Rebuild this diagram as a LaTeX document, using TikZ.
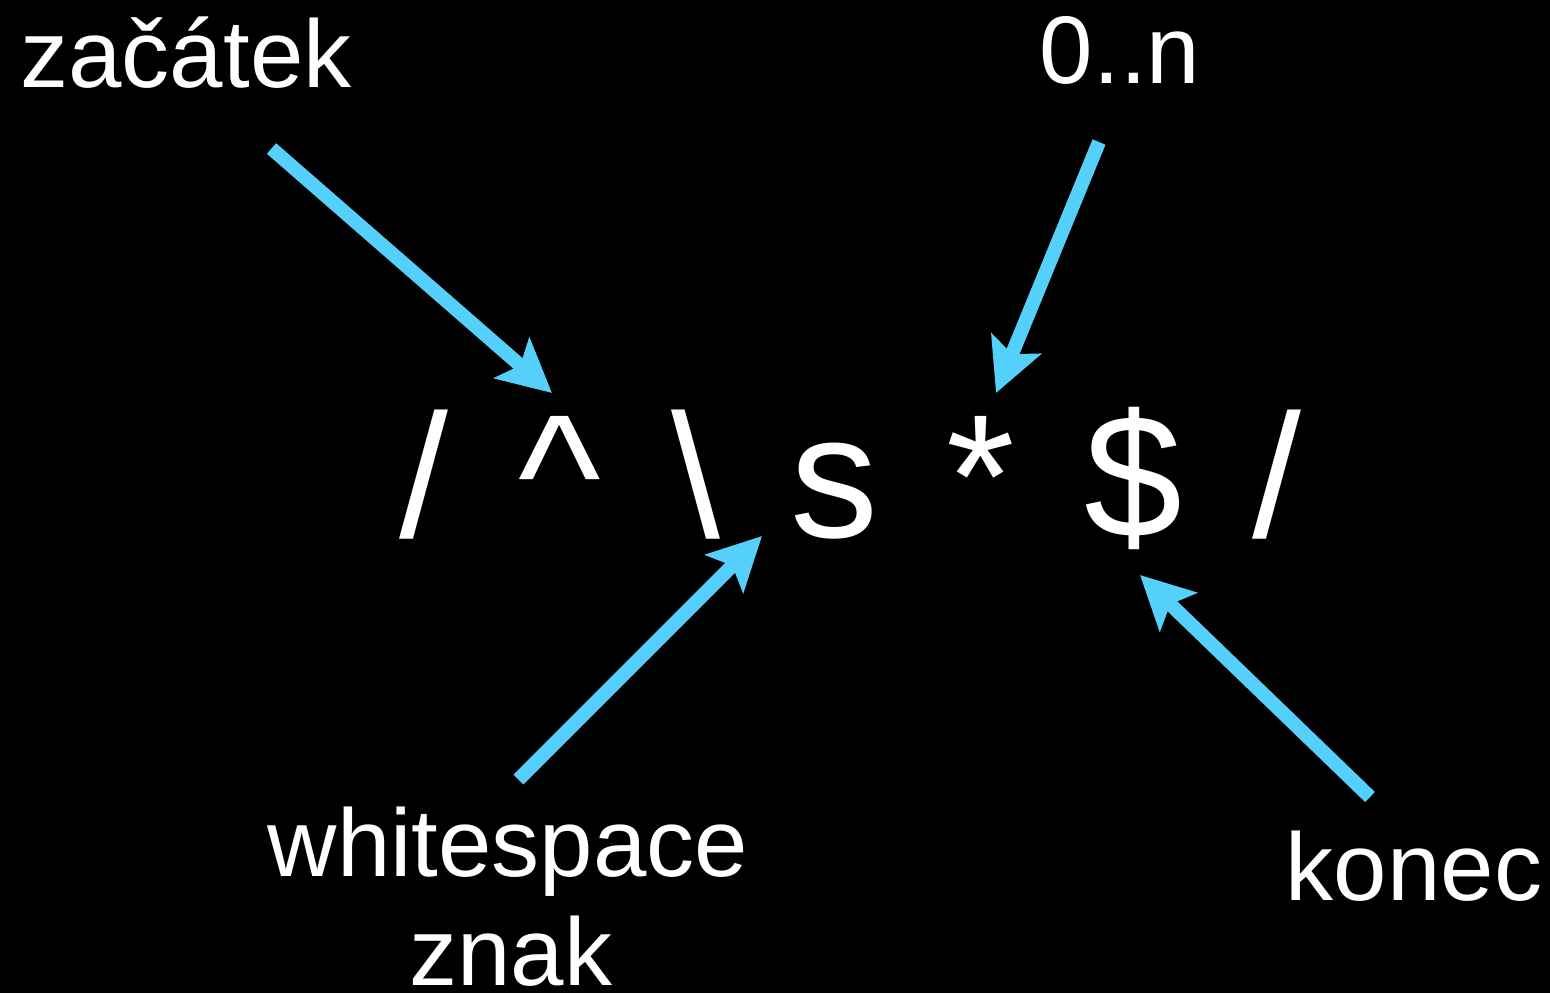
\documentclass[tikz,border=0pt]{standalone}
\usepackage{fontspec}
\setmainfont{Liberation Sans}
\usetikzlibrary{arrows.meta}
\definecolor{arrowcyan}{RGB}{85,208,250}
\begin{document}
\begin{tikzpicture}[x=0.5pt,y=-0.5pt,
  lab/.style={text=white, inner sep=0pt, anchor=base, font=\fontsize{48}{58}\selectfont},
  rx/.style={text=white, inner sep=0pt, anchor=base, font=\fontsize{88}{100}\selectfont},
  ptr/.style={draw=arrowcyan, line width=7pt, -{Stealth[length=26.5pt,width=26.5pt,inset=5.5pt]}}
]
\fill[black] (0,0) rectangle (1550,993);
\useasboundingbox (0,0) rectangle (1550,993);

% regex characters
\node[rx] (c1) at (424,537) {/};
\node[rx] (c2) at (560,537) {\^{}};
\node[rx] (c3) at (696,537) {\textbackslash};
\node[rx] (c4) at (834,537) {s};
\node[rx] (c5) at (981,537) {*};
\node[rx] (c6) at (1133,537) {\$};
\node[rx] (c7) at (1277,537) {/};

% labels
\node[lab] (zac) at (186,87) {začátek};
\node[lab] (rep) at (1120,83) {0..n};
\node[lab] (ws) at (508,876) {whitespace};
\node[lab] (zn) at (511,985) {znak};
\node[lab] (kon) at (1414,900) {konec};

% arrow end points
\coordinate (a1s) at (271.5,148.5);
\coordinate (a1t) at (552,393);
\coordinate (a2s) at (1099,142);
\coordinate (a2t) at (996,393);
\coordinate (a3s) at (518.5,779.5);
\coordinate (a3t) at (762,536);
\coordinate (a4s) at (1370,797);
\coordinate (a4t) at (1140,575);

\draw[ptr] (a1s) -- (a1t);
\draw[ptr] (a2s) -- (a2t);
\draw[ptr] (a3s) -- (a3t);
\draw[ptr] (a4s) -- (a4t);
\end{tikzpicture}
\end{document}
